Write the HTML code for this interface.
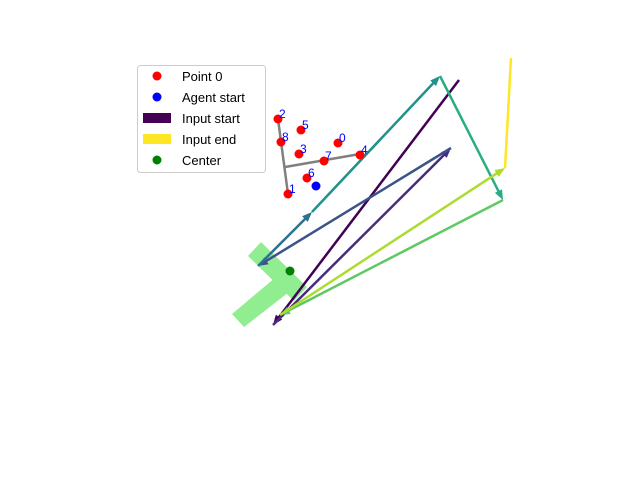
<!DOCTYPE html>
<html><head><meta charset="utf-8"><style>
body{margin:0;background:#fff}
svg{display:block;font-family:"Liberation Sans","DejaVu Sans",sans-serif}
</style></head><body>
<svg id="chart" width="640" height="480" viewBox="0 0 640 480">
<g fill="#90ee90">
<polygon points="248,256 261,242 307,287 294,301"/>
<polygon points="276,277 289,292 244,327 232,314"/>
</g>
<g id="skeleton"></g>
<g id="arrows"></g>
<g id="points"></g>
<g>
<rect x="137.5" y="65.5" width="128" height="107" rx="3" fill="#fff" stroke="#ccc"/>
<circle cx="157" cy="76" r="4.5" fill="red"/>
<text x="182" y="81" font-size="13">Point 0</text>
<circle cx="157" cy="97" r="4.5" fill="blue"/>
<text x="182" y="102" font-size="13">Agent start</text>
<rect x="143" y="113" width="28" height="10" fill="#440154"/>
<text x="182" y="123" font-size="13">Input start</text>
<rect x="143" y="134" width="28" height="10" fill="#fde725"/>
<text x="182" y="144" font-size="13">Input end</text>
<circle cx="157" cy="160" r="4.5" fill="green"/>
<text x="182" y="165" font-size="13">Center</text>
</g>
</svg>
<script>
// data coordinates
const pointX=[33.8,28.8,27.8,29.9,36.0,30.1,30.7,32.4,28.1];
const pointY=[33.7,28.6,36.1,32.6,32.5,35.0,30.2,31.9,33.8];
const agentX=[31.6], agentY=[29.4];
const centerX=[29.0], centerY=[20.9];
const inputX=[45.9,27.3,45.1,25.8,31.2,44.0,50.3,28.0,50.5,51.1];
const inputY=[40.0,15.5,33.2,21.4,26.8,40.4,28.0,16.5,31.2,42.2];
const skelX=[[27.8,28.8],[28.5,36.0]];
const skelY=[[36.1,28.6],[31.3,32.6]];
const colors=["#440154","#472d7b","#3b528b","#2c728e","#21918c","#28ae80","#5ec962","#addc30","#fde725"];
const sx=v=>v*10, sy=v=>480-v*10;
const NS="http://www.w3.org/2000/svg";
const mk=(t,a,p)=>{const e=document.createElementNS(NS,t);for(const k in a)e.setAttribute(k,a[k]);p.appendChild(e);return e;};
const sk=document.getElementById('skeleton');
for(let i=0;i<skelX.length;i++){
 const l=mk('line',{x1:sx(skelX[i][0]),y1:sy(skelY[i][0]),x2:sx(skelX[i][1]),y2:sy(skelY[i][1]),stroke:'#808080','stroke-width':2.5},sk);
 
 
}
const ar=document.getElementById('arrows');
for(let i=0;i<inputX.length-1;i++){
 const x1=sx(inputX[i]),y1=sy(inputY[i]),x2=sx(inputX[i+1]),y2=sy(inputY[i+1]);
 const last=i===inputX.length-2;
 const dx=x2-x1,dy=y2-y1,L=Math.hypot(dx,dy),ux=dx/L,uy=dy/L;
 const hl=last?0:10, hw=4;
 const l=mk('line',{x1:x1,y1:y1,x2:x2-ux*hl*0.6,y2:y2-uy*hl*0.6,stroke:colors[i],'stroke-width':2.5},ar);
 
 
 if(!last){
  const bx=x2-ux*hl,by=y2-uy*hl;
  const p=mk('polygon',{points:`${x2},${y2} ${bx-uy*hw},${by+ux*hw} ${bx+uy*hw},${by-ux*hw}`,fill:colors[i]},ar);
  
  
 }
}
const pg=document.getElementById('points');
for(let i=0;i<pointX.length;i++){
 const c=mk('circle',{cx:sx(pointX[i]),cy:sy(pointY[i]),r:4.5,fill:'red'},pg);
 
 
 const t=mk('text',{x:sx(pointX[i])+1,y:sy(pointY[i])-1,fill:'blue','font-size':12},pg);
 t.textContent=String(i);
 
 
}
const ag=mk('circle',{cx:sx(agentX[0]),cy:sy(agentY[0]),r:4.5,fill:'blue'},pg);


const ce=mk('circle',{cx:sx(centerX[0]),cy:sy(centerY[0]),r:4.5,fill:'green'},pg);


</script>
</body></html>
